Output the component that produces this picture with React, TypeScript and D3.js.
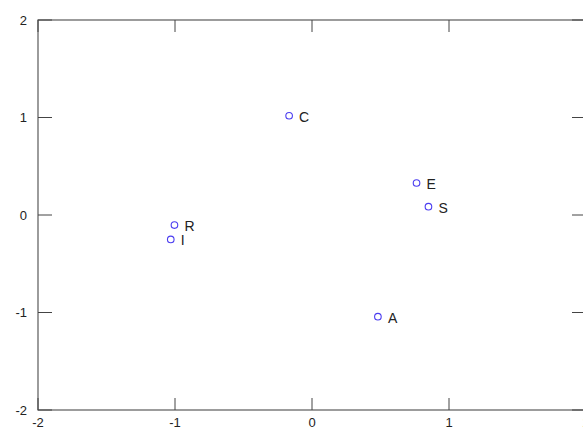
import React from "react";
import * as d3 from "d3";

const labels = ["C", "R", "I", "E", "S", "A"];
const xValues = [-0.167, -1.004, -1.031, 0.763, 0.85, 0.481];
const yValues = [1.018, -0.103, -0.25, 0.328, 0.085, -1.043];
const xTicks = [-2, -1, 0, 1, 2];
const yTicks = [-2, -1, 0, 1, 2];

const W = 583;
const H = 429;
const left = 38;
const right = 586;
const top = 20;
const bottom = 410;

export default function App() {
  const x = d3.scaleLinear().domain([-2, 2]).range([left, right]);
  const y = d3.scaleLinear().domain([-2, 2]).range([bottom, top]);
  const font = "'Liberation Sans', Arial, sans-serif";
  const axisColor = "#5a5a5a";
  const tickLen = 14;
  return (
    <svg
      width={W}
      height={H}
      style={{ position: "fixed", left: 0, top: 0, background: "#fff" }}
      fontFamily={font}
    >
      <rect x={0} y={0} width={W} height={H} fill="#fff" />
      <rect
        x={left}
        y={top}
        width={right - left}
        height={bottom - top}
        fill="none"
        stroke={axisColor}
        strokeWidth={1.2}
      />
      {xTicks.map((t) => (
        <g key={"x" + t}>
          <line x1={x(t)} x2={x(t)} y1={bottom} y2={bottom - 12} stroke="#444" strokeWidth={1} />
          <line x1={x(t)} x2={x(t)} y1={top} y2={top + 12} stroke="#444" strokeWidth={1} />
          <text x={x(t)} y={bottom + 17} textAnchor="middle" fontSize={13} fill="#222">
            {t}
          </text>
        </g>
      ))}
      {yTicks.map((t) => (
        <g key={"y" + t}>
          <line x1={left} x2={left + tickLen} y1={y(t)} y2={y(t)} stroke="#444" strokeWidth={1} />
          <line x1={right} x2={right - tickLen} y1={y(t)} y2={y(t)} stroke="#444" strokeWidth={1} />
          <text x={27} y={y(t)} dy="0.35em" textAnchor="end" fontSize={13} fill="#222">
            {t}
          </text>
        </g>
      ))}
      {labels.map((l, i) => (
        <g key={l}>
          <circle
            cx={x(xValues[i])}
            cy={y(yValues[i])}
            r={3.3}
            fill="none"
            stroke="#4a3cf0"
            strokeWidth={1.1}
          />
          <text
            x={x(xValues[i]) + 10}
            y={y(yValues[i]) + 1}
            dy="0.35em"
            fontSize={14}
            fill="#222"
          >
            {l}
          </text>
        </g>
      ))}
    </svg>
  );
}
